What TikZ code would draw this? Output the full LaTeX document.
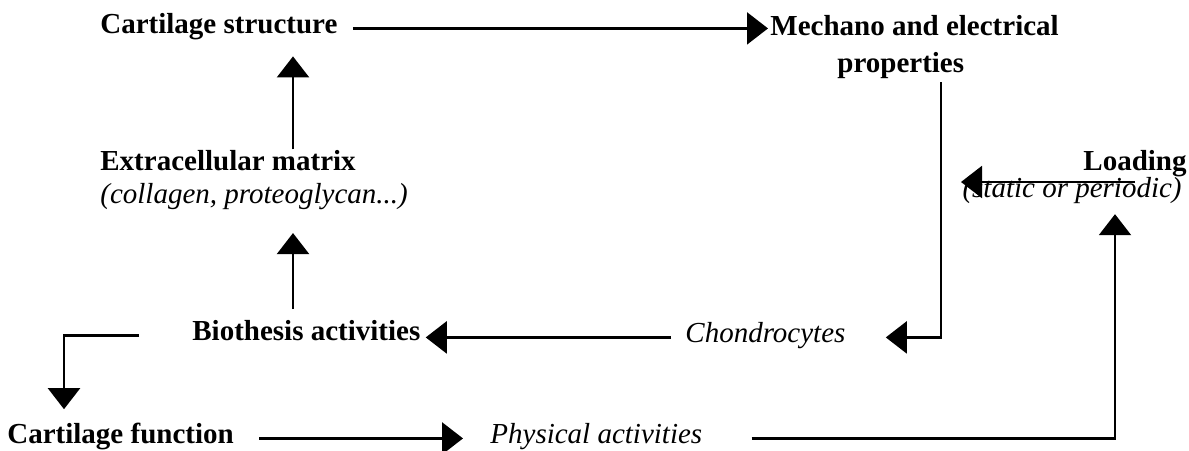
\documentclass[tikz,border=0pt]{standalone}
\usepackage{fontspec}
\setmainfont{Liberation Serif}
\usepackage{tikz}
\usetikzlibrary{arrows.meta, positioning}

\begin{document}
\begin{tikzpicture}[
    x=0.5pt, y=-0.5pt,
    term/.style={inner sep=0pt, font=\fontsize{14.5}{17}\selectfont\bfseries},
    cell/.style={inner sep=0pt, font=\fontsize{14.5}{17}\selectfont\itshape},
    arrow/.style={-{Triangle[length=10.5pt, width=16pt]}, line width=1.1pt}
]
\useasboundingbox (0,0) rectangle (1189,450);

% Top row
\node[term, anchor=base west] (struct) at (100,33) {Cartilage structure};
\node[term, anchor=base west] (mech) at (770,35) {Mechano and electrical};
\node[term, anchor=base west] (mechsub) at (837,72) {properties};

% Matrix and loading
\node[term, anchor=base west] (ecm) at (100,170) {Extracellular matrix};
\node[cell, anchor=base west] (ecmsub) at (100,203) {(collagen, proteoglycan...)};
\node[term, anchor=base east] (load) at (1187,170) {Loading};
\node[cell, anchor=base east] (loadsub) at (1182,197) {(static or periodic)};

% Cells
\node[term, anchor=base west] (bio) at (192,340) {Biothesis activities};
\node[cell, anchor=base west] (chondro) at (685,342) {Chondrocytes};

% Bottom row
\node[term, anchor=base west] (func) at (7,443) {Cartilage function};
\node[cell, anchor=base west] (phys) at (490,443) {Physical activities};

% Bends
\coordinate (upx) at (293,0);
\coordinate (mx) at (941,0);
\coordinate (rx) at (1115,0);
\coordinate (lx) at (64,0);
\coordinate (lt) at (961,182);

% Arrows
\draw[arrow, shorten <=7.5pt, shorten >=1pt] (struct.mid east) -- (struct.mid east -| mech.west);
\draw[arrow, shorten >=8.3pt] (ecm.north -| upx) -- (struct.south -| upx);
\draw[arrow, shorten <=5.2pt, shorten >=11.7pt] (bio.north -| upx) -- (ecmsub.south -| upx);
\draw[arrow, shorten <=1.9pt, shorten >=20pt] (mechsub.south -| mx) |- (chondro.mid east);
\draw[arrow] (load.south |- lt) -- (lt);
\draw[arrow, shorten <=7pt, shorten >=2.5pt] (chondro.mid west) -- (bio.mid east |- chondro.mid west);
\draw[arrow, shorten <=26.5pt, shorten >=6.5pt] (bio.mid west) -| (func.north -| lx);
\draw[arrow, shorten <=12.5pt, shorten >=13.5pt] (func.mid east) -- (phys.mid west);
\draw[arrow, shorten <=24.5pt, shorten >=5.3pt] (phys.mid east) -| (loadsub.south -| rx);

\end{tikzpicture}
\end{document}
